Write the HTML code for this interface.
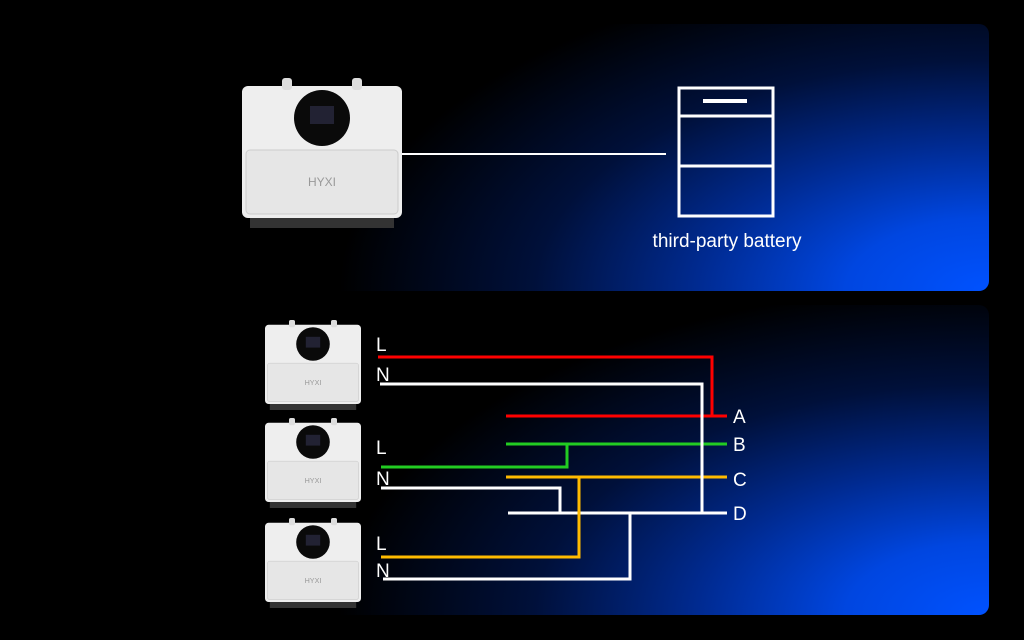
<!DOCTYPE html>
<html><head><style>
body{margin:0;background:#000;width:1024px;height:640px;overflow:hidden;font-family:"Liberation Sans",sans-serif}
.p{position:absolute;left:-20px;width:1009px;border-radius:10px;background:radial-gradient(ellipse 650px 330px at 100% 100%,#0052ff 0%,#0046e0 22%,#002a90 45%,#00103a 70%,rgba(0,0,0,0) 100%),#000}
</style></head><body>
<div class="p" style="top:24px;height:267px"></div>
<div class="p" style="top:305px;height:310px"></div>
<svg width="1024" height="640" style="position:absolute;left:0;top:0" font-family="Liberation Sans, sans-serif">
<defs>
<g id="inv">
<rect x="0" y="8" width="160" height="132" rx="6" fill="#eeeeee"/>
<rect x="40" y="0" width="10" height="12" rx="3" fill="#ddd"/><rect x="110" y="0" width="10" height="12" rx="3" fill="#ddd"/>
<rect x="4" y="72" width="152" height="64" rx="4" fill="#e6e6e6" stroke="#ccc"/>
<circle cx="80" cy="40" r="28" fill="#0a0a0a"/>
<rect x="68" y="28" width="24" height="18" fill="#223"/>
<text x="80" y="108" font-size="12" fill="#999" text-anchor="middle">HYXI</text>
<g fill="#333"><rect x="8" y="140" width="144" height="10"/></g>
</g>
</defs>
<use href="#inv" transform="translate(242,78)"/>
<use href="#inv" transform="translate(265,320) scale(0.6)"/>
<use href="#inv" transform="translate(265,418) scale(0.6)"/>
<use href="#inv" transform="translate(265,518) scale(0.6)"/>
<line x1="402" y1="154" x2="666" y2="154" stroke="#fff" stroke-width="2"/>
<rect x="679" y="88" width="94" height="128" fill="none" stroke="#fff" stroke-width="3"/>
<line x1="679" y1="116" x2="773" y2="116" stroke="#fff" stroke-width="3"/>
<line x1="679" y1="166" x2="773" y2="166" stroke="#fff" stroke-width="3"/>
<line x1="703" y1="101" x2="747" y2="101" stroke="#fff" stroke-width="4"/>
<text x="727" y="247" font-size="19" fill="#fff" text-anchor="middle">third-party battery</text>
<g fill="none" stroke-width="3">
<polyline points="378,357 712,357 712,416" stroke="#f00"/>
<line x1="506" y1="416" x2="727" y2="416" stroke="#f00"/>
<line x1="506" y1="444" x2="727" y2="444" stroke="#2c2"/>
<polyline points="381,467 567,467 567,444" stroke="#2c2"/>
<line x1="506" y1="477" x2="727" y2="477" stroke="#fb0"/>
<polyline points="380,384 702,384 702,513" stroke="#fff"/>
<polyline points="381,488 560,488 560,513" stroke="#fff"/>
<line x1="508" y1="513" x2="727" y2="513" stroke="#fff"/>
<polyline points="381,557 579,557 579,477" stroke="#fb0"/>
<polyline points="383,579 630,579 630,513" stroke="#fff"/>
</g>
<g fill="#fff" font-size="19">
<text x="376" y="351">L</text><text x="376" y="381">N</text>
<text x="376" y="454">L</text><text x="376" y="485">N</text>
<text x="376" y="550">L</text><text x="376" y="577">N</text>
<text x="733" y="423">A</text><text x="733" y="451">B</text><text x="733" y="486">C</text><text x="733" y="520">D</text>
</g>
</svg>
</body></html>
